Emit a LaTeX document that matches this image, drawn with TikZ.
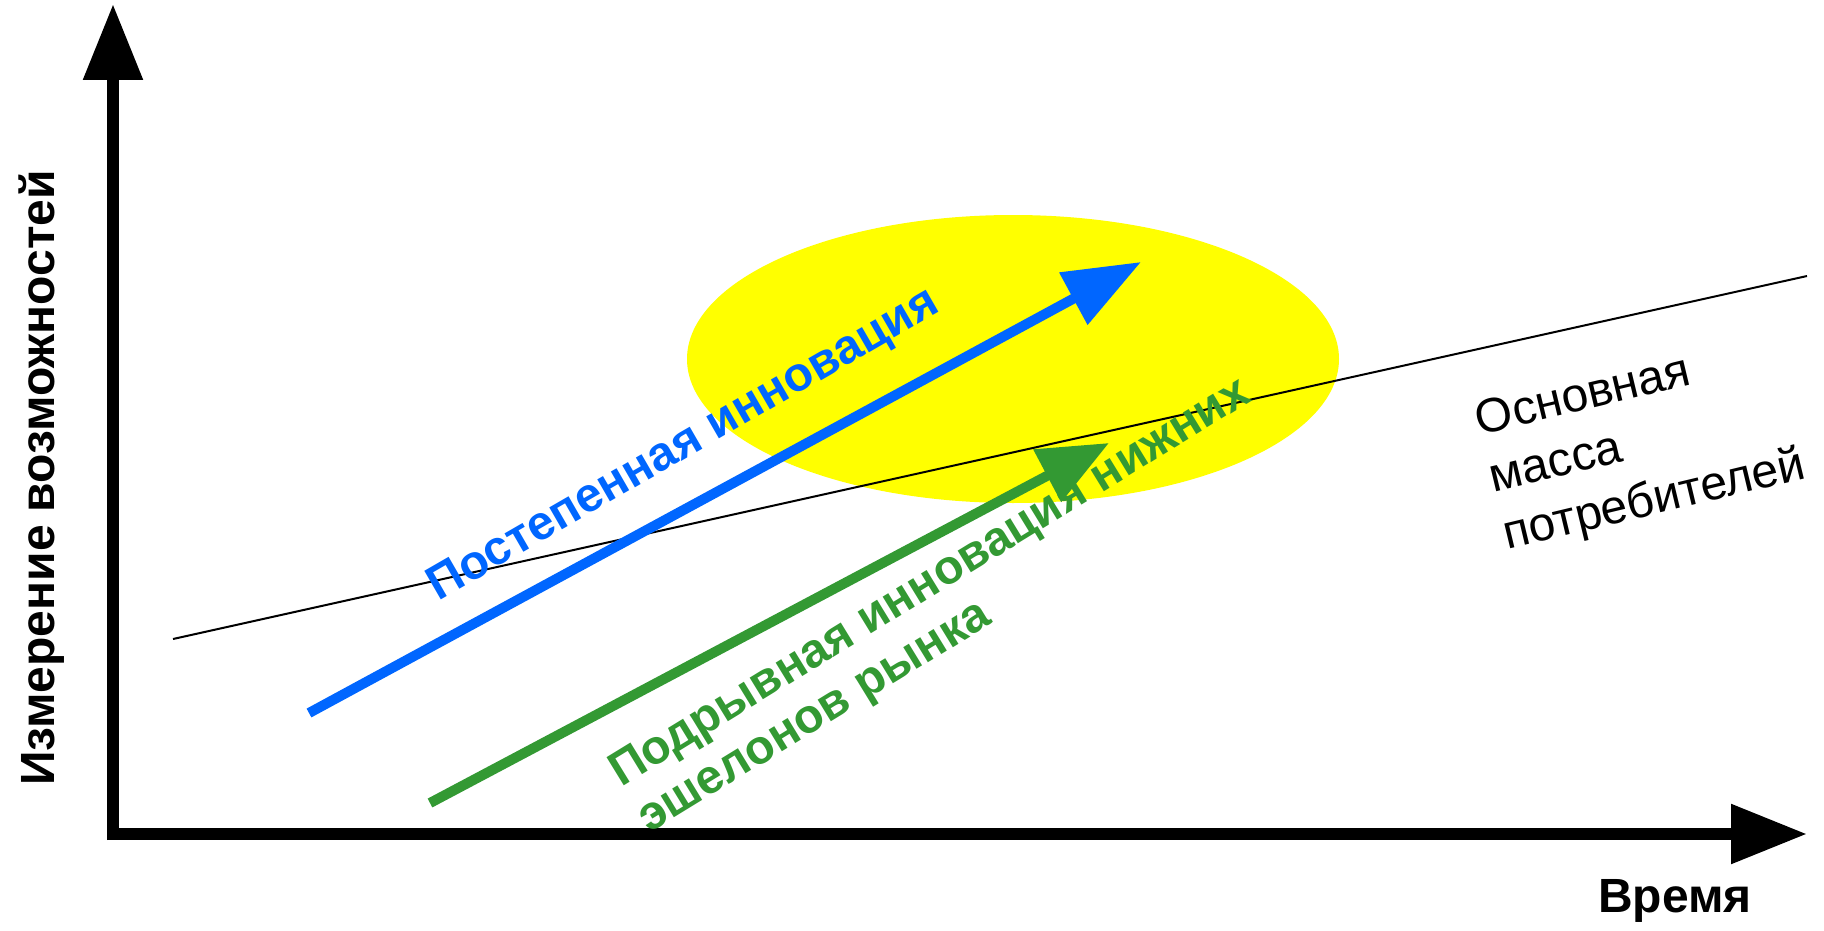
\documentclass[tikz,border=0pt]{standalone}
\usepackage{fontspec}
\setmainfont{Liberation Sans}
\usetikzlibrary{arrows.meta}
\definecolor{blueA}{HTML}{0066FF}
\definecolor{greenA}{HTML}{339933}
\definecolor{yellowA}{HTML}{FFFF00}
\tikzset{
  axisline/.style={line width=12pt, -{Triangle[length=76pt,width=57pt]}},
  bluearrow/.style={blueA, line width=10pt, -{Triangle[length=77pt,width=57pt]}},
  greenarrow/.style={greenA, line width=10pt, -{Triangle[length=70pt,width=57pt]}},
  boldlabel/.style={inner sep=0pt, font=\bfseries\fontsize{48}{54}\selectfont},
  plainlabel/.style={inner sep=0pt, font=\fontsize{48}{59}\selectfont}
}
\begin{document}
\begin{tikzpicture}[x=1pt,y=-1pt]
\useasboundingbox (0,0) rectangle (1824,931);
% ellipse
\fill[yellowA] (1013,359) ellipse [x radius=326, y radius=144];
% mainstream line
\coordinate (m1) at (173,639);
\coordinate (m2) at (1807,276);
\draw[line width=2pt] (m1) -- (m2);
% axes
\coordinate (ob) at (113,840);
\coordinate (o) at (107,834);
\coordinate (yt) at (113,4);
\coordinate (xt) at (1807,834);
\draw[axisline] (ob) -- (yt);
\draw[axisline] (o) -- (xt);
% arrows
\coordinate (b1) at (309,713);
\coordinate (b2) at (1141,262);
\draw[bluearrow] (b1) -- (b2);
\coordinate (g1) at (430,803);
\coordinate (g2) at (1109,443);
\draw[greenarrow] (g1) -- (g2);
% labels
\node[boldlabel, rotate=90, anchor=base] (ylab) at (54,478) {Измерение возможностей};
\node[boldlabel, anchor=base] (xlab) at (1675,912) {Время};
\node[boldlabel, text=blueA, rotate=30] (bt) at (684,446) {Постепенная инновация};
\node[boldlabel, text=greenA, rotate=31.5, align=left] (gt) at (945,607) {Подрывная инновация нижних\\эшелонов рынка};
\node[plainlabel, rotate=13.5, align=left] (ot) at (1641,445) {Основная\\масса\\потребителей};
\end{tikzpicture}
\end{document}
